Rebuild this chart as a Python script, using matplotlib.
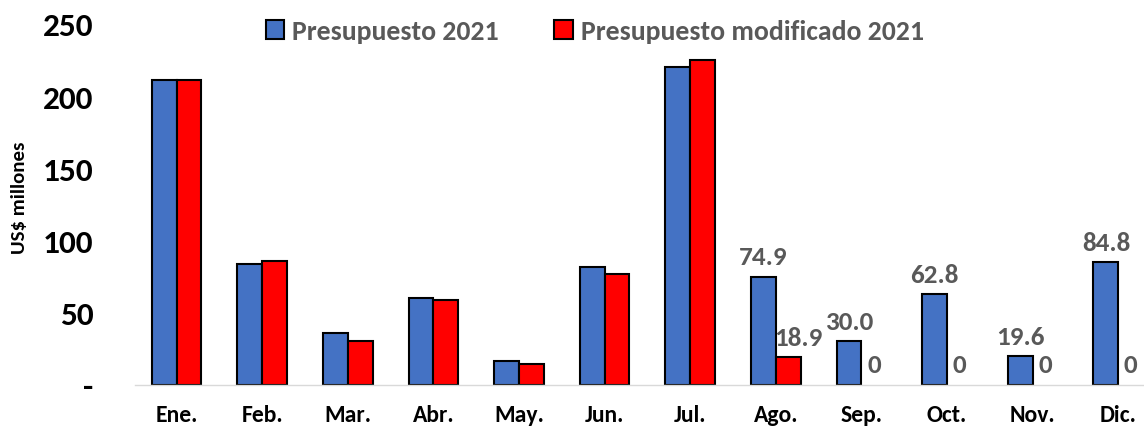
import matplotlib.pyplot as plt
import numpy as np

plt.rcParams['font.family'] = ['Carlito', 'DejaVu Sans']

meses = ['Ene.', 'Feb.', 'Mar.', 'Abr.', 'May.', 'Jun.', 'Jul.',
         'Ago.', 'Sep.', 'Oct.', 'Nov.', 'Dic.']
presupuesto = [211, 83.6, 35.6, 60.1, 16.4, 81.6, 220.4,
               74.9, 30.0, 62.8, 19.6, 84.8]
modificado = [211, 85.9, 30.1, 58.9, 14.6, 76.5, 225.0,
              18.9, 0, 0, 0, 0]
etiqueta_desde = 7  # etiquetas solo de Ago. en adelante

azul = '#4472C4'
rojo = '#FF0000'
gris = '#595959'

fig = plt.figure(figsize=(11.44, 4.27), dpi=100)
ax = fig.add_axes([0.118, 0.0967, 0.882, 0.8448])

x = np.arange(len(meses))
w = 0.29
b1 = ax.bar(x - w / 2, presupuesto, w, color=azul, edgecolor='black',
            linewidth=1.5, label='Presupuesto 2021')
b2 = ax.bar(x + w / 2, modificado, w, color=rojo, edgecolor='black',
            linewidth=1.5, label='Presupuesto modificado 2021')
# las barras en cero no se ven
for r in list(b1) + list(b2):
    if r.get_height() == 0:
        r.set_linewidth(0)

# etiquetas de datos
for i in range(etiqueta_desde, len(meses)):
    ax.annotate(f'{presupuesto[i]:.1f}', (x[i] - w / 2, presupuesto[i]),
                xytext=(0, 9), textcoords='offset points', ha='center',
                va='baseline', fontsize=19.5, fontweight='bold', color=gris)
    v = modificado[i]
    txt = f'{v:.1f}' if v else '0'
    dx = 7 if v else 0
    ax.annotate(txt, (x[i] + w / 2, v), xytext=(dx, 9),
                textcoords='offset points', ha='center', va='baseline',
                fontsize=19.5, fontweight='bold', color=gris)

ax.set_xlim(-0.485, 11.3)
ax.set_ylim(0, 250)
ax.set_yticks([0, 50, 100, 150, 200, 250])
ax.set_yticklabels(['-', '50', '100', '150', '200', '250'])
ax.set_xticks(x)
ax.set_xticklabels(meses)
ax.tick_params(axis='both', length=0)
ax.tick_params(axis='y', pad=30, labelsize=24)
ax.tick_params(axis='x', pad=14, labelsize=17)
for lab in ax.get_yticklabels() + ax.get_xticklabels():
    lab.set_fontweight('bold')

for s in ['top', 'right', 'left']:
    ax.spines[s].set_visible(False)
ax.spines['bottom'].set_color('#D9D9D9')
ax.spines['bottom'].set_linewidth(1)

ax.set_ylabel('US$ millones', fontsize=15, fontweight='bold')
ax.yaxis.set_label_coords(-0.106, 0.52)

fig.legend(handles=[b1, b2], loc='center', bbox_to_anchor=(0.52, 0.925),
           ncol=2, frameon=False, prop={'weight': 'bold', 'size': 20},
           labelcolor=gris, handlelength=0.65, handleheight=0.65,
           handletextpad=0.3, columnspacing=2.0)

fig.savefig('out.png', dpi=100)
